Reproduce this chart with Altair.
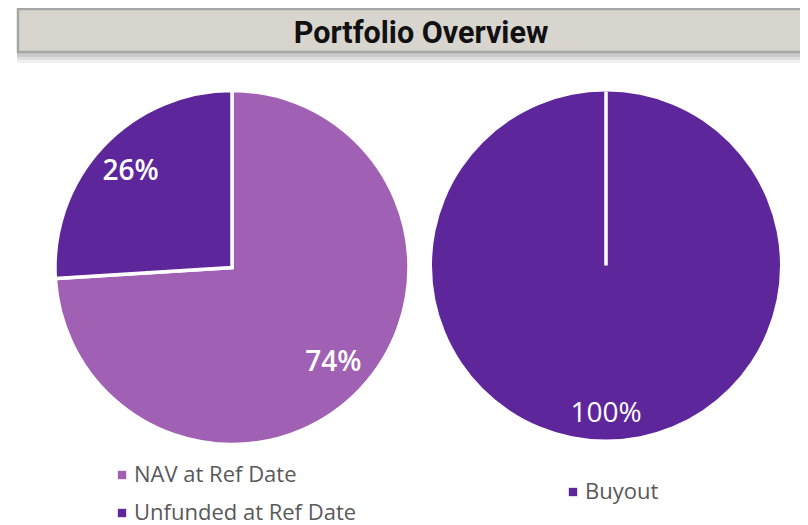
import altair as alt
import pandas as pd

# ---- data ----
title_text = "Portfolio Overview"
left_categories = ["NAV at Ref Date", "Unfunded at Ref Date"]
left_values = [74, 26]
left_colors = ["#A060B4", "#5E269B"]
right_categories = ["Buyout"]
right_values = [100]
right_colors = ["#5E269B"]

left_df = pd.DataFrame({
    "category": left_categories,
    "value": left_values,
    "ord": list(range(len(left_categories))),
    "label": [f"{v}%" for v in left_values],
})
right_df = pd.DataFrame({
    "category": right_categories,
    "value": right_values,
    "ord": list(range(len(right_categories))),
    "label": [f"{v}%" for v in right_values],
})
banner_df = pd.DataFrame({"t": [title_text]})

# ---- layout constants ----
W, H = 792, 517
LCX, LCY = 224, 259.5
RCX, RCY = 598, 257.5
R_LEFT = 177
R_RIGHT = 174
LABEL_FONT = "Open Sans"

# ---- banner ----
shadows = [
    alt.Chart(banner_df).mark_rect(fill="#7a7a7a", opacity=op).encode(
        x=alt.value(9), x2=alt.value(806), y=alt.value(4), y2=alt.value(y2))
    for op, y2 in [(0.10, 55), (0.15, 52), (0.2, 49)]
]
box = alt.Chart(banner_df).mark_rect(fill="#D8D4CE", stroke="#A6A6A6", strokeWidth=2.5).encode(
    x=alt.value(10), x2=alt.value(812), y=alt.value(1), y2=alt.value(44))
title = alt.Chart(banner_df).mark_text(
    font="Roboto", fontSize=30.5, fontWeight="bold", color="#111111",
    align="center", baseline="alphabetic"
).encode(text="t:N", x=alt.value(413), y=alt.value(35))

# ---- left pie ----
left_base = alt.Chart(left_df).encode(
    theta=alt.Theta("value:Q", stack=True),
    order=alt.Order("ord:Q"),
)
left_arc = left_base.mark_arc(radius=R_LEFT, stroke="white", strokeWidth=3.5).encode(
    color=alt.Color(
        "category:N",
        scale=alt.Scale(domain=left_categories, range=left_colors),
        legend=alt.Legend(
            title=None, orient="none", legendX=103, legendY=456,
            symbolType="square", symbolSize=70, symbolStrokeWidth=0,
            labelFontSize=22, labelColor="#595959", labelFont=LABEL_FONT,
            labelLimit=0, rowPadding=16, padding=0, labelOffset=1,
        ),
    ),
    x=alt.value(LCX), y=alt.value(LCY),
)
left_text = left_base.mark_text(
    radius=139, font=LABEL_FONT, fontSize=28, fontWeight=600, color="white",
    align="center", baseline="middle"
).encode(text="label:N", x=alt.value(LCX), y=alt.value(LCY))

# ---- right pie ----
right_base = alt.Chart(right_df).encode(
    theta=alt.Theta("value:Q", stack=True),
    order=alt.Order("ord:Q"),
)
right_arc = right_base.mark_arc(radius=R_RIGHT).encode(
    color=alt.Color(
        "category:N",
        scale=alt.Scale(domain=right_categories, range=right_colors),
        legend=alt.Legend(
            title=None, orient="none", legendX=554, legendY=473,
            symbolType="square", symbolSize=70, symbolStrokeWidth=0,
            labelFontSize=22, labelColor="#595959", labelFont=LABEL_FONT,
            labelLimit=0, padding=0, labelOffset=1,
        ),
    ),
    x=alt.value(RCX), y=alt.value(RCY),
)
right_seam = alt.Chart(right_df).mark_arc(
    theta=0, theta2=0, radius=R_RIGHT, fill="white", stroke="white", strokeWidth=3.5
).encode(x=alt.value(RCX), y=alt.value(RCY))
right_text = right_base.mark_text(
    radius=148, font=LABEL_FONT, fontSize=28, fontWeight=500, color="white",
    align="center", baseline="middle"
).encode(text="label:N", x=alt.value(RCX), y=alt.value(RCY))

chart = alt.layer(
    *shadows, box, title,
    left_arc, left_text,
    right_arc, right_seam, right_text,
).resolve_scale(color="independent").properties(
    width=W, height=H, padding=0, autosize=alt.AutoSizeParams(type="none"),
).configure_view(stroke=None)

chart.save("out.html", embed_options={"renderer": "svg", "actions": False})
